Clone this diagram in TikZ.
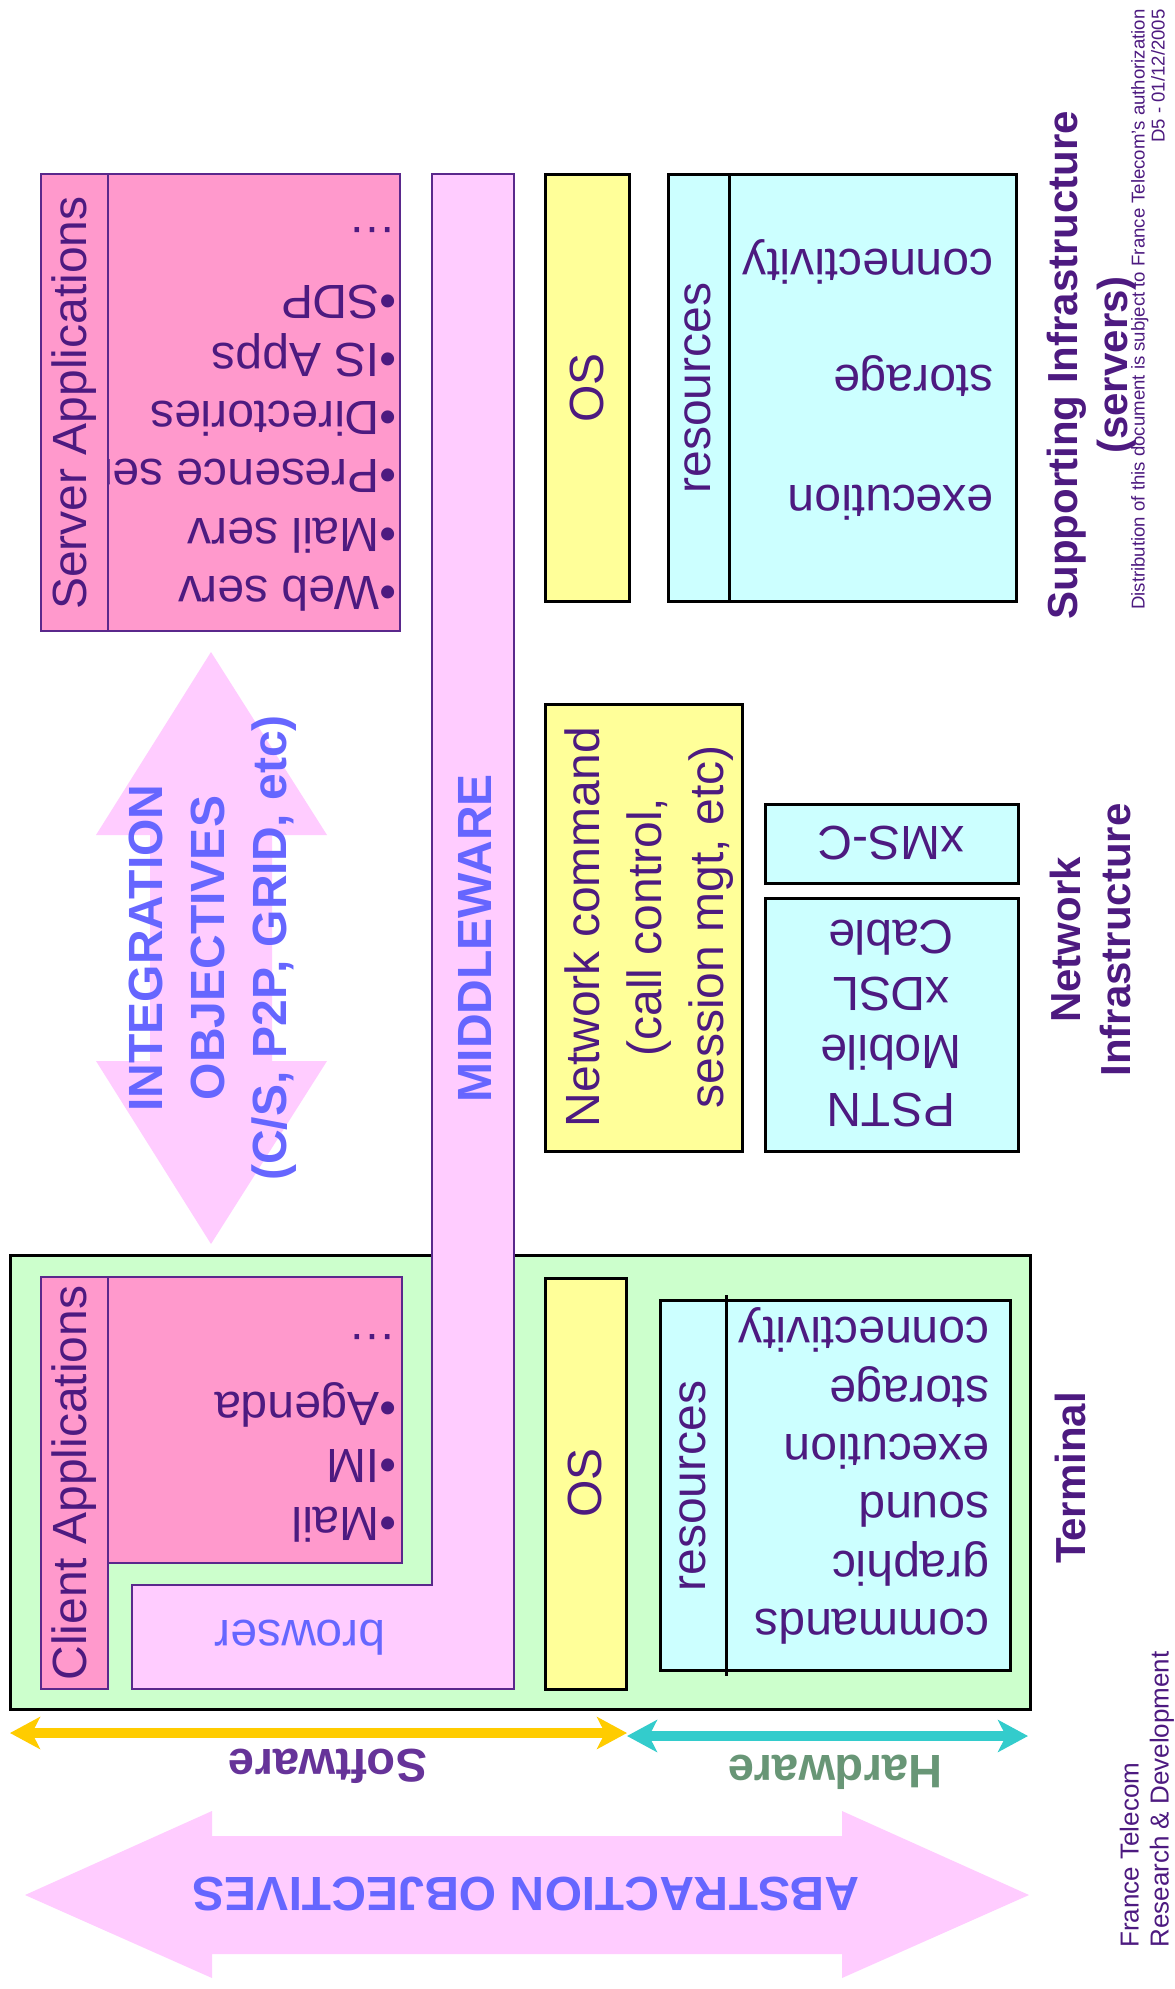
\documentclass[tikz,border=0pt]{standalone}
\usepackage{fontspec}
\setmainfont{Liberation Sans}
\usetikzlibrary{arrows.meta}
\definecolor{txt}{RGB}{77,26,128}
\definecolor{pinkbox}{RGB}{255,153,204}
\definecolor{lilac}{RGB}{255,204,255}
\definecolor{edgep}{RGB}{90,40,140}
\definecolor{osy}{RGB}{255,255,153}
\definecolor{cyanb}{RGB}{204,255,255}
\definecolor{greenb}{RGB}{204,255,204}
\definecolor{blueT}{RGB}{102,102,255}
\definecolor{softc}{RGB}{102,51,153}
\definecolor{hardc}{RGB}{104,150,118}
\definecolor{yel}{RGB}{255,204,0}
\definecolor{tealc}{RGB}{51,204,204}
\begin{document}
\begin{tikzpicture}[x=0.5pt,y=-0.5pt,
  pbox/.style={fill=pinkbox, draw=edgep, line width=1pt},
  lbox/.style={fill=lilac, draw=edgep, line width=1pt},
  ybox/.style={fill=osy, draw=black, line width=1.5pt},
  cbox/.style={fill=cyanb, draw=black, line width=1.5pt},
  gbox/.style={fill=greenb, draw=black, line width=1.5pt},
  vlab/.style={rotate=90, inner sep=0, text=txt, font=\fontsize{24}{31}\selectfont, align=center},
  ln/.style={rotate=180, inner sep=0, text=txt, font=\fontsize{24}{29}\selectfont, text height=17.5pt, text depth=0pt},
  side/.style={rotate=90, inner sep=0, text=txt, font=\bfseries\fontsize{21}{25}\selectfont, align=center},
  bigtxt/.style={inner sep=0, text=blueT, font=\bfseries\fontsize{24}{31}\selectfont, align=center},
  arr/.style={line width=5pt, {Stealth[length=15pt,width=16pt,inset=4pt]}-{Stealth[length=15pt,width=16pt,inset=4pt]}}
]
\fill[white] (0,0) rectangle (1174,1989);
\useasboundingbox (0,0) rectangle (1174,1989);

% ---------- Terminal ----------
\draw[gbox] (10,1255) rectangle (1030,1709);

% ---------- Middleware L ----------
\draw[lbox] (432,174) -- (514,174) -- (514,1689) -- (132,1689) -- (132,1585) -- (432,1585) -- cycle;
\node[bigtxt, rotate=90] (mw) at (475,938) {MIDDLEWARE};
\node[ln, text=blueT] (br) at (300,1638) {browser};

% ---------- Server applications ----------
\draw[pbox] (108,174) rectangle (400,631);
\node[ln, anchor=west] (s1) at (397,594) {•Web serv};
\node[ln, anchor=west] (s2) at (397,536) {•Mail serv};
\node[ln, anchor=west] (s3) at (397,477) {•Presence serv};
\node[ln, anchor=west] (s4) at (397,419) {•Directories};
\node[ln, anchor=west] (s5) at (397,361) {•IS Apps};
\node[ln, anchor=west] (s6) at (397,303) {•SDP};
\node[ln, anchor=west] (s7) at (397,245) {…};
\draw[pbox] (41,174) rectangle (108,631);
\node[vlab] (sa) at (74.5,403) {Server Applications};

% ---------- Integration arrow ----------
\fill[lilac] (211,652) -- (327,835) -- (272,835) -- (272,1061) -- (327,1061) -- (211,1244)
  -- (96,1061) -- (150,1061) -- (150,835) -- (96,835) -- cycle;
\node[bigtxt, rotate=90] (io) at (213,948) {INTEGRATION\\OBJECTIVES\\(C/S, P2P, GRID, etc)};

% ---------- Top OS / resources ----------
\draw[ybox] (545,175) rectangle (629,601);
\node[vlab] (os1) at (587,388) {OS};
\draw[cbox] (668,175) rectangle (1016,601);
\draw[black, line width=1.5pt] (729,175) -- (729,601);
\node[vlab] (r1) at (698,388) {resources};
\node[ln, anchor=west] (t1) at (994,267) {connectivity};
\node[ln, anchor=west] (t2) at (994,383) {storage};
\node[ln, anchor=west] (t3) at (994,503) {execution};
\node[side] (si) at (1092,365) {Supporting Infrastructure\\(servers)};

% ---------- Network ----------
\draw[ybox] (545,704) rectangle (742,1151);
\node[vlab] (nc) at (649,927) {Network command\\(call control,\\session mgt, etc)};
\draw[cbox] (765,804) rectangle (1018,883);
\node[ln] (xm) at (891,844) {xMS-C};
\draw[cbox] (765,898) rectangle (1018,1151);
\node[ln] (n1) at (891,1111) {PSTN};
\node[ln] (n2) at (891,1053) {Mobile};
\node[ln] (n3) at (891,995) {xDSL};
\node[ln] (n4) at (891,938) {Cable};
\node[side] (ni) at (1090,940) {Network\\Infrastructure};

% ---------- Client applications ----------
\draw[pbox] (108,1277) rectangle (402,1563);
\draw[pbox] (41,1277) rectangle (108,1689);
\node[vlab] (ca) at (74.5,1483) {Client Applications};
\node[ln, anchor=west] (c1) at (397,1525) {•Mail};
\node[ln, anchor=west] (c2) at (397,1467) {•IM};
\node[ln, anchor=west] (c3) at (397,1410) {•Agenda};
\node[ln, anchor=west] (c4) at (397,1352) {…};

% ---------- Terminal OS / resources ----------
\draw[ybox] (545,1278) rectangle (626,1689);
\node[vlab] (os2) at (585,1483) {OS};
\draw[cbox] (660,1300) rectangle (1010,1670);
\draw[black, line width=1.5pt] (726,1295) -- (726,1676);
\node[vlab] (r2) at (693,1486) {resources};
\node[ln, anchor=west] (u1) at (990,1627) {commands};
\node[ln, anchor=west] (u2) at (990,1569) {graphic};
\node[ln, anchor=west] (u3) at (990,1510) {sound};
\node[ln, anchor=west] (u4) at (990,1452) {execution};
\node[ln, anchor=west] (u5) at (990,1394) {storage};
\node[ln, anchor=west] (u6) at (990,1335) {connectivity};
\node[side] (te) at (1070,1478) {Terminal};

% ---------- Software / Hardware ----------
\coordinate (swL) at (10,1733);
\coordinate (swR) at (627,1733);
\coordinate (hwL) at (627,1736);
\coordinate (hwR) at (1028,1736);
\draw[arr, yel] (swL) -- (swR);
\draw[arr, tealc] (hwL) -- (hwR);
\node[rotate=180, inner sep=0, text=softc, font=\bfseries\fontsize{23.5}{28}\selectfont] (sw) at (328,1766) {Software};
\node[rotate=180, inner sep=0, text=hardc, font=\bfseries\fontsize{23.5}{28}\selectfont] (hw) at (835,1772) {Hardware};

% ---------- Abstraction arrow ----------
\fill[lilac] (25,1895) -- (212,1811) -- (212,1836) -- (842,1836) -- (842,1811) -- (1029,1895)
  -- (842,1978) -- (842,1954) -- (212,1954) -- (212,1978) -- cycle;
\node[bigtxt, rotate=180] (ao) at (526,1894) {ABSTRACTION OBJECTIVES};

% ---------- Footer texts ----------
\node[rotate=90, anchor=east, inner sep=0, text=txt, align=right, font=\fontsize{9.3}{10}\selectfont] (dist) at (1148,9)
  {Distribution of this document is subject to France Telecom’s authorization\\D5 - 01/12/2005};
\node[rotate=90, anchor=west, inner sep=0, text=txt, align=left, font=\fontsize{13}{15}\selectfont] (ft) at (1147,1948)
  {France Telecom\\Research \& Development};
\end{tikzpicture}
\end{document}
